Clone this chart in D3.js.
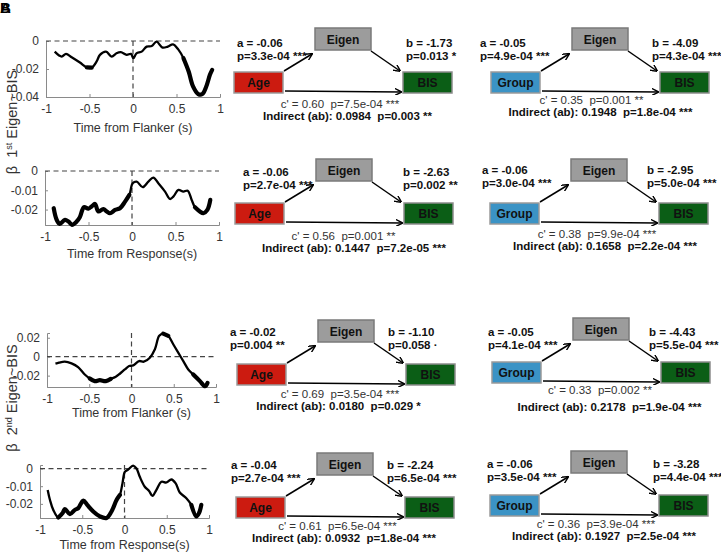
<!DOCTYPE html>
<html>
<head>
<meta charset="utf-8">
<script src="https://cdn.jsdelivr.net/npm/d3@7"></script>
<style>
  body { margin: 0; background: #fff; }
  svg { font-family: "Liberation Sans", Arial, sans-serif; }
  text { white-space: pre; }
</style>
</head>
<body>
<div id="fig"></div>
<script>
// time course data (beta of eigen ~ BIS)
var timeTicks = [-1, -0.5, 0, 0.5, 1];

var flank1T = [-0.9, -0.82, -0.77, -0.705, -0.61, -0.53, -0.475, -0.418, -0.38, -0.31, -0.245, -0.19, -0.14, -0.073, -0.023, 0.004, 0.04, 0.1, 0.157, 0.215, 0.27, 0.34, 0.4, 0.46, 0.52, 0.58, 0.64, 0.69, 0.75, 0.797, 0.84, 0.885, 0.91];
var flank1B = [-0.0076, -0.0111, -0.0092, -0.0116, -0.0154, -0.0189, -0.019, -0.0146, -0.0099, -0.0076, -0.0111, -0.0088, -0.008, -0.0099, -0.0092, -0.0123, -0.0088, -0.0076, -0.004, -0.0036, -0.0005, -0.0047, -0.004, -0.0024, -0.006, -0.0123, -0.0218, -0.0324, -0.0379, -0.0379, -0.0329, -0.024, -0.0206];
var flank1Sig = [[-0.55, -0.45], [0.55, 0.91]];

var resp1T = [-0.9, -0.866, -0.83, -0.77, -0.73, -0.69, -0.636, -0.6, -0.552, -0.502, -0.464, -0.425, -0.387, -0.33, -0.29, -0.253, -0.195, -0.138, -0.08, -0.03, 0.008, 0.054, 0.123, 0.188, 0.245, 0.303, 0.38, 0.437, 0.475, 0.533, 0.59, 0.64, 0.686, 0.724, 0.78, 0.82, 0.866, 0.9];
var resp1B = [-0.0193, -0.0253, -0.0274, -0.0253, -0.0262, -0.0279, -0.0262, -0.024, -0.0188, -0.0195, -0.0184, -0.0171, -0.021, -0.0197, -0.021, -0.0219, -0.0202, -0.0193, -0.0159, -0.0124, -0.0064, -0.0055, -0.0084, -0.0055, -0.0034, -0.0064, -0.0107, -0.0145, -0.0133, -0.0098, -0.0107, -0.0102, -0.015, -0.0188, -0.021, -0.0219, -0.0202, -0.015];
var resp1Sig = [[-0.9, 0.0], [0.7, 0.9]];

var flank2T = [-0.9, -0.858, -0.79, -0.71, -0.632, -0.553, -0.494, -0.435, -0.375, -0.304, -0.245, -0.186, -0.138, -0.079, -0.028, 0.02, 0.09, 0.146, 0.217, 0.277, 0.328, 0.375, 0.435, 0.494, 0.553, 0.613, 0.672, 0.731, 0.81, 0.87, 0.9];
var flank2B = [-0.0074, -0.0064, -0.0053, -0.0071, -0.011, -0.0188, -0.023, -0.0258, -0.0248, -0.0258, -0.0234, -0.0212, -0.018, -0.0135, -0.0099, -0.0092, -0.0046, -0.0053, -0.0011, 0.0078, 0.022, 0.0244, 0.022, 0.0131, 0.0042, -0.0046, -0.0135, -0.0188, -0.0258, -0.0312, -0.0276];
var flank2Sig = [[-0.5, -0.2], [0.33, 0.48], [0.7, 0.9]];

var resp2T = [-0.909, -0.882, -0.843, -0.783, -0.732, -0.705, -0.646, -0.587, -0.547, -0.488, -0.441, -0.37, -0.291, -0.213, -0.154, -0.094, -0.055, -0.024, 0.004, 0.043, 0.102, 0.142, 0.181, 0.24, 0.291, 0.331, 0.378, 0.437, 0.496, 0.555, 0.606, 0.654, 0.732, 0.791, 0.85, 0.882, 0.909];
var resp2B = [-0.0121, -0.0178, -0.0234, -0.0277, -0.0252, -0.023, -0.0258, -0.0234, -0.0224, -0.0181, -0.0206, -0.0243, -0.0271, -0.028, -0.0243, -0.0178, -0.015, -0.0084, -0.0019, -0.0006, 0.0017, 0, -0.0047, -0.0103, -0.0127, -0.0155, -0.0121, -0.0075, -0.0079, -0.0062, -0.0084, -0.0136, -0.0168, -0.0206, -0.0271, -0.0252, -0.0206];
var resp2Sig = [[-0.82, -0.05], [0.78, 0.91]];

var yDomains = [[-0.04, 0], [-0.028, 0], [-0.032, 0.025], [-0.028, 0.002]];
var yTicks = [[0, -0.02, -0.04], [0, -0.01, -0.02], [0.02, 0, -0.02], [0, -0.01, -0.02]];
var xLabels = ["Time from Flanker (s)", "Time from Response(s)", "Time from Flanker (s)", "Time from Response(s)"];

// mediation results
var predictors = ["Age", "Group", "Age", "Group", "Age", "Group", "Age", "Group"];
var aEst = ["-0.06", "-0.05", "-0.06", "-0.06", "-0.02", "-0.05", "-0.04", "-0.06"];
var aP = ["p=3.3e-04 ***", "p=4.9e-04 ***", "p=2.7e-04 ***", "p=3.0e-04 ***", "p=0.004 **", "p=4.1e-04 ***", "p=2.7e-04 ***", "p=3.5e-04 ***"];
var bEst = ["-1.73", "-4.09", "-2.63", "-2.95", "-1.10", "-4.43", "-2.24", "-3.28"];
var bP = ["p=0.013 *", "p=4.3e-04 ***", "p=0.002 **", "p=5.0e-04 ***", "p=0.058 \u00b7", "p=5.5e-04 ***", "p=6.5e-04 ***", "p=4.4e-04 ***"];
var cEst = ["0.60", "0.35", "0.56", "0.38", "0.69", "0.33", "0.61", "0.36"];
var cP = ["p=7.5e-04 ***", "p=0.001 **", "p=0.001 **", "p=9.9e-04 ***", "p=3.5e-04 ***", "p=0.002 **", "p=6.5e-04 ***", "p=3.9e-04 ***"];
var abEst = ["0.0984", "0.1948", "0.1447", "0.1658", "0.0180", "0.2178", "0.0932", "0.1927"];
var abP = ["p=0.003 **", "p=1.8e-04 ***", "p=7.2e-05 ***", "p=2.2e-04 ***", "p=0.029 *", "p=1.9e-04 ***", "p=1.8e-04 ***", "p=2.5e-04 ***"];

var width = 721, height = 552;

var svg = d3.select("#fig").append("svg")
    .attr("width", width)
    .attr("height", height);

// panel frames (pixel boxes for the four time plots) and x-label baselines
var frames = [
    {x0: 46, x1: 220, y0: 41, y1: 97, lab: 132},
    {x0: 45, x1: 219, y0: 171, y1: 225, lab: 258},
    {x0: 47, x1: 216, y0: 333, y1: 387, lab: 417},
    {x0: 40, x1: 209, y0: 465, y1: 518, lab: 549}
];
var series = [
    {t: flank1T, b: flank1B, sig: flank1Sig},
    {t: resp1T, b: resp1B, sig: resp1Sig},
    {t: flank2T, b: flank2B, sig: flank2Sig},
    {t: resp2T, b: resp2B, sig: resp2Sig}
];

series.forEach(function(s, i) {
    var f = frames[i];
    var x = d3.scaleLinear().domain([-1, 1]).range([f.x0, f.x1]);
    var y = d3.scaleLinear().domain(yDomains[i]).range([f.y1, f.y0]);
    var g = svg.append("g");

    var xAxis = d3.axisBottom(x).tickValues(timeTicks).tickSize(-3).tickPadding(7)
        .tickFormat(function(d) { return d === 0 ? "0" : String(d); });
    var yAxis = d3.axisLeft(y).tickValues(yTicks[i]).tickSize(-3).tickPadding(7)
        .tickFormat(function(d) { return d === 0 ? "0" : String(d); });

    var gx = g.append("g").attr("transform", "translate(0," + f.y1 + ")").call(xAxis);
    var gy = g.append("g").attr("transform", "translate(" + f.x0 + ",0)").call(yAxis);
    [gx, gy].forEach(function(a) {
        a.select(".domain").attr("stroke", "#8a8a8a");
        a.selectAll(".tick line").attr("stroke", "#8a8a8a");
        a.selectAll("text").attr("fill", "#333").style("font-size", "12px").attr("font-family", null);
    });

    // dashed reference lines
    g.append("line")
        .attr("x1", x(-1)).attr("x2", x(1))
        .attr("y1", y(0)).attr("y2", y(0))
        .attr("stroke", "#444").attr("stroke-width", 1.2)
        .attr("stroke-dasharray", "5,3.5");
    g.append("line")
        .attr("x1", x(0)).attr("x2", x(0))
        .attr("y1", f.y0).attr("y2", f.y1)
        .attr("stroke", "#444").attr("stroke-width", 1.2)
        .attr("stroke-dasharray", "5,3.5");

    var pts = s.t.map(function(t, k) { return [t, s.b[k]]; });
    var line = d3.line()
        .x(function(d) { return x(d[0]); })
        .y(function(d) { return y(d[1]); })
        .curve(d3.curveCatmullRom.alpha(0.5));

    g.append("path").datum(pts)
        .attr("d", line)
        .attr("fill", "none").attr("stroke", "#000")
        .attr("stroke-width", 2.3).attr("stroke-linejoin", "round");

    s.sig.forEach(function(r) {
        var seg = pts.filter(function(p) { return p[0] >= r[0] && p[0] <= r[1]; });
        g.append("path").datum(seg)
            .attr("d", line)
            .attr("fill", "none").attr("stroke", "#000")
            .attr("stroke-width", 4.2).attr("stroke-linejoin", "round")
            .attr("stroke-linecap", "round");
    });

    g.append("text")
        .attr("x", (f.x0 + f.x1) / 2)
        .attr("y", f.lab)
        .attr("text-anchor", "middle")
        .attr("fill", "#333")
        .style("font-size", "12.5px")
        .text(xLabels[i]);
});

// rotated y labels
[["1", "st", 122], ["2", "nd", 398]].forEach(function(l) {
    var t = svg.append("text")
        .attr("transform", "translate(17," + l[2] + ") rotate(-90)")
        .attr("text-anchor", "middle")
        .attr("fill", "#333")
        .style("font-size", "14.5px");
    t.append("tspan").text("\u03b2  " + l[0]);
    t.append("tspan").attr("dy", -5).style("font-size", "9px").text(l[1]);
    t.append("tspan").attr("dy", 5).text(" Eigen~BIS");
});

// panel letters (overlapping in the source)
svg.append("text").attr("x", 0).attr("y", 13).style("font-size", "15px").style("font-weight", "bold").text("A");
svg.append("text").attr("x", 0).attr("y", 13).style("font-size", "15px").style("font-weight", "bold").text("B");

// arrow marker
svg.append("defs").append("marker")
    .attr("id", "arr")
    .attr("viewBox", "0 0 10 10")
    .attr("refX", 9).attr("refY", 5)
    .attr("markerWidth", 7).attr("markerHeight", 7)
    .attr("markerUnits", "userSpaceOnUse")
    .attr("orient", "auto")
    .append("path")
    .attr("d", "M0,0 L10,5 L0,10")
    .attr("fill", "none").attr("stroke", "#000").attr("stroke-width", 2);

// diagram placement: predictor box top-left, plus text offsets relative to it
var origins = [[234, 72], [491, 72], [235, 203], [490, 203], [237, 364], [492, 362], [236, 497], [490, 495]];
var aOff = [[3, -25], [-11, -25], [8, -27], [-8, -29], [-7, -28], [-4, -26], [-5, -28], [-3, -27]];
var bOff = [[172, -25], [161, -25], [168, -27], [157, -29], [151, -28], [157, -26], [151, -28], [163, -27]];
var cOff = [[106, 36], [100.5, 32], [108.5, 37], [107, 35], [103, 34], [108, 32], [101.5, 33], [106, 33]];
var abOff = [[113.5, 48], [109.5, 44], [119, 49], [115, 47], [101.5, 46], [117.5, 49], [108, 45], [114, 45]];

var predFill = {Age: "#cc1b10", Group: "#3b93c5"};
var bw = 49, bh = 21;

predictors.forEach(function(p, i) {
    var ox = origins[i][0], oy = origins[i][1];
    var g = svg.append("g").attr("transform", "translate(" + ox + "," + oy + ")");

    g.append("rect").attr("x", 0).attr("y", 0).attr("width", bw).attr("height", bh)
        .attr("fill", predFill[p]).attr("stroke", "#9a9a9a").attr("stroke-width", 1.5);
    g.append("rect").attr("x", 81).attr("y", -44).attr("width", 56).attr("height", 22)
        .attr("fill", "#9c9c9c").attr("stroke", "#7a7a7a").attr("stroke-width", 1.5);
    g.append("rect").attr("x", 169).attr("y", 0).attr("width", bw).attr("height", bh)
        .attr("fill", "#0b5e16").attr("stroke", "#8c8c8c").attr("stroke-width", 1.5);

    var lab = [[bw / 2, bh / 2, p], [109, -33, "Eigen"], [169 + bw / 2, bh / 2, "BIS"]];
    lab.forEach(function(d) {
        g.append("text").attr("x", d[0]).attr("y", d[1] + 4.5)
            .attr("text-anchor", "middle")
            .style("font-size", "12px").style("font-weight", "bold")
            .attr("fill", "#111").text(d[2]);
    });

    var arrows = [[50, -1, 78, -18], [137, -21, 166, -1], [51, 19, 167, 20]];
    arrows.forEach(function(a) {
        g.append("line").attr("x1", a[0]).attr("y1", a[1]).attr("x2", a[2]).attr("y2", a[3])
            .attr("stroke", "#000").attr("stroke-width", 1.5)
            .attr("marker-end", "url(#arr)");
    });

    var bold = function(x, y, txt, anchor) {
        g.append("text").attr("x", x).attr("y", y)
            .attr("text-anchor", anchor || "start")
            .style("font-size", "11.5px").style("font-weight", "bold")
            .attr("fill", "#111").text(txt);
    };
    bold(aOff[i][0], aOff[i][1], "a = " + aEst[i]);
    bold(aOff[i][0], aOff[i][1] + 12.5, aP[i]);
    bold(bOff[i][0], bOff[i][1], "b = " + bEst[i]);
    bold(bOff[i][0], bOff[i][1] + 12.5, bP[i]);

    g.append("text").attr("x", cOff[i][0]).attr("y", cOff[i][1])
        .attr("text-anchor", "middle")
        .style("font-size", "11.5px")
        .attr("fill", "#333")
        .text("c' = " + cEst[i] + "  p" + cP[i].slice(1));
    bold(abOff[i][0], abOff[i][1], "Indirect (ab): " + abEst[i] + "  " + abP[i], "middle");
});
</script>
</body>
</html>
